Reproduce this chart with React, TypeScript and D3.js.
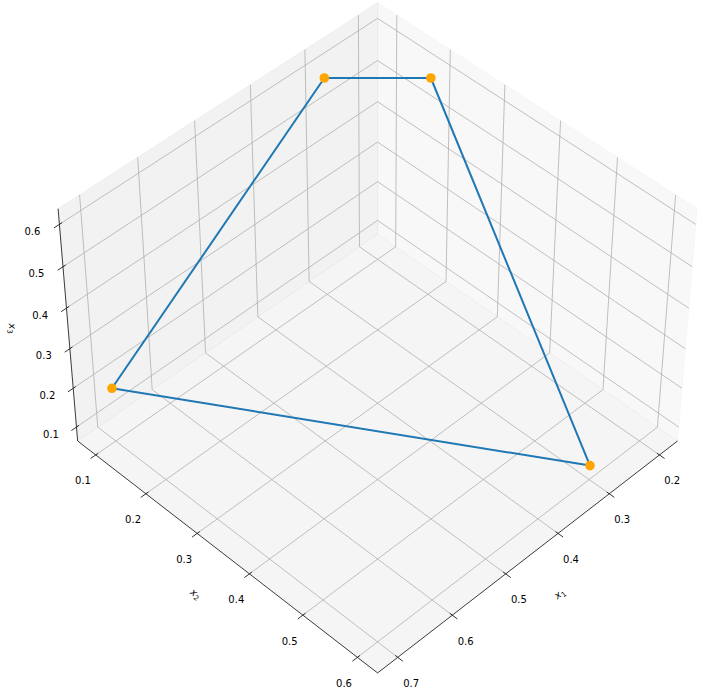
import React from 'react';
import * as d3 from 'd3';

// ---- data ----
const x1Values = [0.7, 0.3, 0.2, 0.3, 0.7];
const x2Values = [0.1, 0.1, 0.2, 0.6, 0.1];
const x3Values = [0.2, 0.6, 0.6, 0.1, 0.2];
const x1Ticks = [0.2, 0.3, 0.4, 0.5, 0.6, 0.7];
const x2Ticks = [0.1, 0.2, 0.3, 0.4, 0.5, 0.6];
const x3Ticks = [0.1, 0.2, 0.3, 0.4, 0.5, 0.6];
const axisSubscripts = ['1', '2', '3'];

// ---- view / layout ----
const W = 717;
const H = 696;
const ELEV = 45;
const AZIM = 45;
const DIST = 10;
const BOX_RATIO = [4, 4, 3];
const MARGIN = 0.05;
const VIEW_LIM = [-0.095, 0.09];
const AX_LEFT = 28.4;
const AX_TOP = -2.3;
const AX_SIZE = 680;
const TICK_LABEL_SHIFT = 0.0441;
const AXIS_LABEL_SHIFT = 0.0958;
const TICK_BASELINE = 10.5;
const PANE_COLORS = ['rgba(242,242,242,0.5)', 'rgba(230,230,230,0.5)', 'rgba(236,236,236,0.5)'];
const FONT = '"DejaVu Sans", sans-serif';

type V3 = number[];
const dot = (a: V3, b: V3) => a[0] * b[0] + a[1] * b[1] + a[2] * b[2];
const cross = (a: V3, b: V3) => [a[1] * b[2] - a[2] * b[1], a[2] * b[0] - a[0] * b[2], a[0] * b[1] - a[1] * b[0]];
const unit = (a: V3) => { const l = Math.hypot(a[0], a[1], a[2]); return a.map((c) => c / l); };

function limits(vals: number[]): number[] {
  const [lo, hi] = d3.extent(vals) as [number, number];
  const r = hi - lo;
  return [lo - MARGIN * r, hi + MARGIN * r];
}

const lims = [limits(x1Values), limits(x2Values), limits(x3Values)];
const tickSets = [x1Ticks, x2Ticks, x3Ticks];

const bn = Math.hypot(BOX_RATIO[0], BOX_RATIO[1], BOX_RATIO[2]);
const box = BOX_RATIO.map((b) => (b * 1.8294640721620434) / bn);
const worldScales = lims.map((l, i) => d3.scaleLinear().domain(l).range([0, box[i]]));
const Rc = box.map((b) => b / 2);
const el = (ELEV * Math.PI) / 180;
const az = (AZIM * Math.PI) / 180;
const nvec = [Math.cos(el) * Math.cos(az), Math.cos(el) * Math.sin(az), Math.sin(el)];
const eye = Rc.map((r, i) => r + DIST * nvec[i]);
const uvec = unit(cross([0, 0, 1], nvec));
const vvec = cross(nvec, uvec);

const pxScale = d3.scaleLinear().domain(VIEW_LIM).range([AX_LEFT, AX_LEFT + AX_SIZE]);
const pyScale = d3.scaleLinear().domain(VIEW_LIM).range([AX_TOP + AX_SIZE, AX_TOP]);

// data coords -> [screen x, screen y, depth]
function proj(p: V3): number[] {
  const w = p.map((c, i) => worldScales[i](c));
  const d = w.map((c, i) => c - eye[i]);
  const zv = dot(nvec, d);
  return [pxScale(dot(uvec, d) / -zv), pyScale(dot(vvec, d) / -zv), -zv];
}

const ranges = lims.map((l) => l[1] - l[0]);
const deltas = ranges.map((r) => r / 12);
const mins = lims.map((l, i) => l[0] - deltas[i] / 4);
const maxs = lims.map((l, i) => l[1] + deltas[i] / 4);
const centers = lims.map((l) => (l[0] + l[1]) / 2);

function planeDepth(i: number, val: number): number {
  const o = [0, 1, 2].filter((k) => k !== i);
  let s = 0;
  for (const a of [mins[o[0]], maxs[o[0]]])
    for (const b of [mins[o[1]], maxs[o[1]]]) {
      const p = [0, 0, 0];
      p[i] = val; p[o[0]] = a; p[o[1]] = b;
      s += proj(p)[2];
    }
  return s / 4;
}
const highs = [0, 1, 2].map((i) => planeDepth(i, mins[i]) < planeDepth(i, maxs[i]));
const minmax = highs.map((h, i) => (h ? maxs[i] : mins[i]));
const maxmin = highs.map((h, i) => (h ? mins[i] : maxs[i]));
const juggled = [[1, 0, 2], [0, 1, 2], [0, 2, 1]];
const tickdirs = [1, 0, 0];

function moveFromCenter(p: V3, frac: number, skip: number): V3 {
  return p.map((c, k) => (k === skip ? c : c < centers[k] ? c - frac * ranges[k] : c + frac * ranges[k]));
}

const pathStr = (pts: number[][]) => d3.line()(pts.map((p) => [p[0], p[1]] as [number, number])) as string;

export default function App() {
  const fmt = d3.format('.1f');

  const panes = [0, 1, 2].map((i) => {
    const o = [0, 1, 2].filter((k) => k !== i);
    const corners = [[mins[o[0]], mins[o[1]]], [maxs[o[0]], mins[o[1]]], [maxs[o[0]], maxs[o[1]]], [mins[o[0]], maxs[o[1]]]].map(([a, b]) => {
      const p = [0, 0, 0];
      p[i] = minmax[i]; p[o[0]] = a; p[o[1]] = b;
      return proj(p);
    });
    return <path key={'pane' + i} d={pathStr(corners) + 'Z'} fill={PANE_COLORS[i]} stroke={PANE_COLORS[i]} strokeWidth={1} />;
  });

  const axes = [0, 1, 2].map((i) => {
    const j = juggled[i];
    const e1 = minmax.slice();
    e1[j[0]] = maxmin[j[0]];
    const e2 = e1.slice();
    e2[j[1]] = maxmin[j[1]];
    const p1 = proj(e1);
    const p2 = proj(e2);
    const ticks = tickSets[i].filter((t) => t >= lims[i][0] && t <= lims[i][1]);

    // axis label
    const mid = e1.map((c, k) => (c + e2[k]) / 2);
    const lp = proj(moveFromCenter(mid, AXIS_LABEL_SHIFT, i));
    let ang = (Math.atan2(p2[1] - p1[1], p2[0] - p1[0]) * 180) / Math.PI;
    ang = (ang + 180) % 180;
    if (ang > 90) ang -= 180;

    // grid lines
    const grid = ticks.map((t) => {
      const a = minmax.slice(); a[i] = t;
      const s0 = a.slice(); s0[(i + 1) % 3] = maxmin[(i + 1) % 3];
      const s2 = a.slice(); s2[(i + 2) % 3] = maxmin[(i + 2) % 3];
      return pathStr([proj(s0), proj(a), proj(s2)]);
    });

    const td = tickdirs[i];
    const sign = highs[td] ? 1 : -1;
    const tickEls = ticks.map((t) => {
      const pa = e1.slice(); pa[i] = t; pa[td] = e1[td] + 0.1 * sign * deltas[td];
      const pb = e1.slice(); pb[i] = t; pb[td] = e1[td] - 0.2 * sign * deltas[td];
      const pl = e1.slice(); pl[i] = t;
      const a = proj(pa), b = proj(pb), l = proj(moveFromCenter(pl, TICK_LABEL_SHIFT, i));
      return (
        <g key={'t' + t}>
          <line x1={a[0]} y1={a[1]} x2={b[0]} y2={b[1]} stroke="#000" strokeWidth={0.8} />
          <text x={l[0]} y={l[1] + TICK_BASELINE} textAnchor="middle" fontSize={10} fontFamily={FONT} fill="#000">
            {fmt(t)}
          </text>
        </g>
      );
    });

    return (
      <g key={'axis' + i}>
        <line x1={p1[0]} y1={p1[1]} x2={p2[0]} y2={p2[1]} stroke="#000" strokeWidth={0.75} />
        <text transform={`translate(${lp[0]},${lp[1]}) rotate(${ang})`} y={2} textAnchor="middle" fontSize={10} fontFamily={FONT} fill="#000">
          <tspan fontStyle="italic">x</tspan>
          <tspan fontSize={7} dy={2}>{axisSubscripts[i]}</tspan>
        </text>
        {grid.map((d, k) => (
          <path key={'g' + k} d={d} fill="none" stroke="#b0b0b0" strokeWidth={0.8} />
        ))}
        {tickEls}
      </g>
    );
  });

  const pts = x1Values.map((v, k) => proj([v, x2Values[k], x3Values[k]]));
  const markerPts = pts.slice(0, pts.length - 1);

  return (
    <svg width={W} height={H} style={{ position: 'absolute', left: 0, top: 0, background: '#fff' }}>
      <rect width={W} height={H} fill="#fff" />
      {panes}
      {axes}
      <path d={pathStr(pts)} fill="none" stroke="#1f77b4" strokeWidth={2} strokeLinejoin="round" strokeLinecap="round" />
      {markerPts.map((p, k) => (
        <circle key={'m' + k} cx={p[0]} cy={p[1]} r={4.8} fill="orange" />
      ))}
    </svg>
  );
}
